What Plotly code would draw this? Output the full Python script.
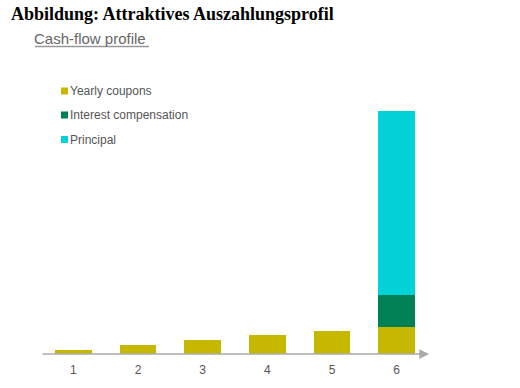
import plotly.graph_objects as go

years = [1, 2, 3, 4, 5, 6]
tick_labels = ["1", "2", "3", "4", "5", "6"]
coupons = [2.2, 4.9, 7.6, 10.1, 12.5, 14.7]
interest = [0, 0, 0, 0, 0, 17.4]
principal = [0, 0, 0, 0, 0, 100]

series = [
    ("Yearly coupons", coupons, "#c6b800"),
    ("Interest compensation", interest, "#008055"),
    ("Principal", principal, "#00d2d8"),
]

W, H = 520, 388
L, R, T, B = 41, 91, 100, 34
PW, PH = W - L - R, H - T - B


def px(xp):
    return (xp - L) / PW


def py(yp):
    return (H - B - yp) / PH


fig = go.Figure()
for name, vals, col in series:
    fig.add_trace(go.Bar(x=years, y=vals, name=name, marker_color=col,
                         marker_line_width=0, width=0.57, showlegend=False))

fig.update_layout(
    width=W, height=H, barmode="stack",
    margin=dict(l=L, r=R, t=T, b=B, autoexpand=False),
    plot_bgcolor="white", paper_bgcolor="white",
    xaxis=dict(range=[0.5, 6.5], tickvals=years, ticktext=tick_labels,
               showgrid=False, zeroline=False, showline=False, ticklabelstandoff=7,
               tickfont=dict(family="Liberation Sans", size=12, color="#555555")),
    yaxis=dict(range=[0, 138], visible=False),
    font=dict(family="Liberation Sans"),
)

# axis line with arrow
fig.add_annotation(x=6.5, y=0, ax=0.5, ay=0, xref="x", yref="y", axref="x", ayref="y",
                   text="", showarrow=True, arrowhead=2, arrowsize=1.3, arrowwidth=1.5,
                   arrowcolor="#aaaaaa")

# title
fig.add_annotation(x=px(9), y=py(14), xref="paper", yref="paper",
                   text="<b>Abbildung: Attraktives Auszahlungsprofil</b>",
                   showarrow=False, xanchor="left", yanchor="middle",
                   font=dict(family="Liberation Serif", size=18, color="black"))

# subtitle
fig.add_annotation(text="Cash-flow profile", showarrow=False, xanchor="left", yanchor="middle",
                   x=px(32), y=py(38), xref="paper", yref="paper",
                   font=dict(family="Liberation Sans", size=15, color="#666666"))
fig.add_shape(type="line", xref="paper", yref="paper", x0=px(35), x1=px(149),
              y0=py(46.5), y1=py(46.5), line=dict(color="#999999", width=1.5))

# legend
leg_y = [91, 115, 139.5]
for (name, vals, col), yy in zip(series, leg_y):
    fig.add_annotation(text=name, showarrow=False, xanchor="left", yanchor="middle",
                       x=px(68), y=py(yy), xref="paper", yref="paper",
                       font=dict(family="Liberation Sans", size=12, color="#555555"))
    fig.add_shape(type="rect", xref="paper", yref="paper",
                  x0=px(61), x1=px(68), y0=py(yy + 3.5), y1=py(yy - 3.5),
                  fillcolor=col, line_width=0)

fig.write_html("out.html", post_script="document.body.style.margin='0px';",
               config={"displayModeBar": False})
